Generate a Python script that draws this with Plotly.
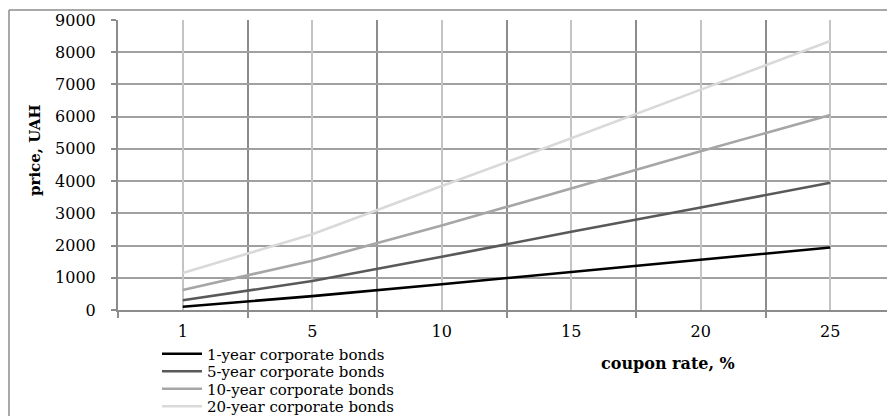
import plotly.graph_objects as go

rates = ["1", "5", "10", "15", "20", "25"]
series_names = ["1-year corporate bonds", "5-year corporate bonds",
                "10-year corporate bonds", "20-year corporate bonds"]
bond_1y = [100, 430, 800, 1180, 1560, 1940]
bond_5y = [300, 900, 1650, 2430, 3180, 3950]
bond_10y = [620, 1530, 2620, 3770, 4930, 6050]
bond_20y = [1150, 2350, 3850, 5330, 6840, 8350]
colors = ["#000000", "#595959", "#a6a6a6", "#d9d9d9"]

FONT = "DejaVu Serif"

# the page body adds an 8px margin, so the figure is 8px smaller each way
W, H = 887, 408
ML, MT, MB = 110, 12, 106
PW, PH = W - ML, H - MT - MB

legend_names = ["legend", "legend2", "legend3", "legend4"]
legend_centers_px = [346, 363.5, 381, 398.5]

fig = go.Figure()
for name, vals, col, lg in zip(series_names, [bond_1y, bond_5y, bond_10y, bond_20y],
                               colors, legend_names):
    fig.add_trace(go.Scatter(x=rates, y=vals, mode="lines", name=name, legend=lg,
                             line=dict(color=col, width=2.6)))

# helper trace on overlay axis to draw light gridlines at category centers
fig.add_trace(go.Scatter(x=rates, y=[None] * len(rates), xaxis="x2", mode="lines",
                         showlegend=False, hoverinfo="skip"))

legend_x = (149 - ML) / PW
legends = {}
for lg, cy in zip(legend_names, legend_centers_px):
    legends[lg] = dict(x=legend_x, y=-(cy - (MT + PH)) / PH, xanchor="left",
                       yanchor="middle", font=dict(family=FONT, size=15, color="black"),
                       itemwidth=40, bgcolor="rgba(0,0,0,0)", borderwidth=0)

fig.update_layout(
    width=W, height=H,
    margin=dict(l=ML, r=0, t=MT, b=MB, autoexpand=False),
    paper_bgcolor="white", plot_bgcolor="white",
    font=dict(family=FONT, size=16, color="black"),
    showlegend=True,
    **legends,
    xaxis=dict(type="category", range=[-0.5, 5.5], tickson="boundaries", showgrid=True,
               gridcolor="#8c8c8c", gridwidth=1.5, ticks="outside", ticklen=6,
               tickcolor="#8c8c8c", tickwidth=1.5, showline=True,
               linecolor="#8c8c8c", linewidth=1.5, ticklabelstandoff=6,
               tickfont=dict(family=FONT, size=16), zeroline=False),
    xaxis2=dict(type="category", overlaying="x", matches="x", showgrid=True,
                gridcolor="#c4c4c4", gridwidth=1.5, showticklabels=False,
                ticks="", showline=False, zeroline=False),
    yaxis=dict(range=[0, 9000], dtick=1000, showgrid=True, gridcolor="#a0a0a0",
               gridwidth=1.5, ticks="outside", ticklen=5, tickcolor="#8c8c8c",
               tickwidth=1.5, showline=True, linecolor="#8c8c8c", linewidth=2,
               zeroline=False, ticklabelstandoff=12,
               tickfont=dict(family=FONT, size=16)),
    annotations=[
        dict(text="<b>coupon rate, %</b>", xref="paper", yref="paper",
             x=(660 - ML) / PW, y=-(355 - (MT + PH)) / PH, xanchor="center",
             yanchor="middle", showarrow=False, font=dict(family=FONT, size=16)),
        dict(text="<b>price, UAH</b>", xref="paper", yref="paper", textangle=-90,
             x=(27 - ML) / PW, y=((MT + PH) - 142) / PH, xanchor="center",
             yanchor="middle", showarrow=False, font=dict(family=FONT, size=15)),
    ],
    shapes=[dict(type="line", xref="paper", yref="paper", x0=-(ML - 1) / PW,
                 x1=-(ML - 1) / PW, y0=1 + (MT - 2) / PH, y1=-0.5,
                 line=dict(color="#8c8c8c", width=1.5)),
            dict(type="line", xref="paper", yref="paper", x0=-(ML - 1) / PW, x1=1.05,
                 y0=1 + (MT - 2) / PH, y1=1 + (MT - 2) / PH,
                 line=dict(color="#8c8c8c", width=1.5))],
)

fig.write_html("out.html")
